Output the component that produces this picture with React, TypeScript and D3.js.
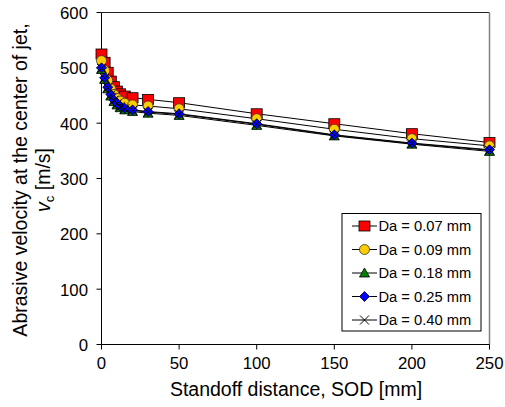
import React from "react";
import * as d3 from "d3";

const sod = [0, 2, 4, 6, 8, 10, 12, 15, 20, 30, 50, 100, 150, 200, 250];
const da007 = [525, 510, 492, 476, 466, 458, 453, 449, 446, 443, 437, 417, 399, 381, 365];
const da009 = [513, 495, 477, 462, 452, 445, 440, 436, 433, 431, 426, 408, 389, 372, 359];
const da018 = [497, 479, 462, 449, 439, 433, 428, 424, 421, 418, 414, 396, 377, 362, 349];
const da025 = [500, 482, 465, 452, 442, 436, 431, 427, 424, 421, 417, 399, 379, 364, 352];
const da040 = [499, 481, 464, 451, 441, 435, 430, 426, 423, 420, 416, 398, 378, 363, 351];
const seriesLabels = ["Da = 0.07 mm", "Da = 0.09 mm", "Da = 0.18 mm", "Da = 0.25 mm", "Da = 0.40 mm"];
const markerKinds = ["square", "circle", "triangle", "diamond", "x"];
const markerFills = ["#FF0000", "#FFCC00", "#008000", "#0000FF", "none"];
const xTicks = [0, 50, 100, 150, 200, 250];
const yTicks = [0, 100, 200, 300, 400, 500, 600];

const FONT = "'Liberation Sans', Arial, sans-serif";

function Marker({ kind, fill, cx, cy }: { kind: string; fill: string; cx: number; cy: number }) {
  const s = "#000";
  if (kind === "square")
    return <rect x={cx - 5.5} y={cy - 5} width={11} height={10} fill={fill} stroke={s} strokeWidth={0.8} />;
  if (kind === "circle") return <circle cx={cx} cy={cy} r={5} fill={fill} stroke="#333" strokeWidth={0.8} />;
  if (kind === "triangle")
    return (
      <path
        d={`M${cx},${cy - 5}L${cx + 5},${cy + 4}L${cx - 5},${cy + 4}Z`}
        fill={fill}
        stroke={s}
        strokeWidth={0.8}
      />
    );
  if (kind === "diamond")
    return (
      <path
        d={`M${cx},${cy - 5}L${cx + 5},${cy}L${cx},${cy + 5}L${cx - 5},${cy}Z`}
        fill={fill}
        stroke={s}
        strokeWidth={0.8}
      />
    );
  return (
    <path
      d={`M${cx - 4.5},${cy - 4.5}L${cx + 4.5},${cy + 4.5}M${cx - 4.5},${cy + 4.5}L${cx + 4.5},${cy - 4.5}`}
      stroke={s}
      strokeWidth={1}
      fill="none"
    />
  );
}

export default function App() {
  const W = 505;
  const H = 407;
  const left = 101.5;
  const right = 489.5;
  const top = 12.5;
  const bottom = 344.5;
  const x = d3.scaleLinear().domain([0, 250]).range([left, right]);
  const y = d3.scaleLinear().domain([0, 600]).range([bottom, top]);
  const series = [da007, da009, da018, da025, da040];
  const line = d3
    .line<number>()
    .x((_, i) => x(sod[i]))
    .y((d) => y(d));

  const legX = 342;
  const legY = 213.5;
  const legW = 139;
  const legH = 117.5;
  const rowH = 23.5;

  return (
    <svg
      width={W}
      height={H}
      style={{ position: "absolute", left: 0, top: 0, background: "#fff" }}
      fontFamily={FONT}
    >
      <rect x={0} y={0} width={W} height={H} fill="#fff" />
      {/* frame */}
      <line x1={left} y1={top} x2={right} y2={top} stroke="#222" strokeWidth={1} />
      <line x1={right} y1={top} x2={right} y2={bottom} stroke="#808080" strokeWidth={1.5} />
      <line x1={left} y1={top} x2={left} y2={bottom} stroke="#000" strokeWidth={1} />
      <line x1={left} y1={bottom} x2={right} y2={bottom} stroke="#000" strokeWidth={1} />
      {/* y ticks */}
      {yTicks.map((t) => (
        <g key={"y" + t}>
          <line x1={left - 5} x2={left} y1={y(t)} y2={y(t)} stroke="#000" />
          <text x={88} y={y(t) + 6.5} fontSize={16.8} textAnchor="end" fill="#000">
            {t}
          </text>
        </g>
      ))}
      {/* x ticks */}
      {xTicks.map((t) => (
        <g key={"x" + t}>
          <line x1={x(t)} x2={x(t)} y1={bottom} y2={bottom + 5} stroke="#000" />
          <text x={x(t)} y={369} fontSize={16.8} textAnchor="middle" fill="#000">
            {t}
          </text>
        </g>
      ))}
      {/* axis titles */}
      <text x={296} y={396} fontSize={19.5} textAnchor="middle" fill="#000">
        Standoff distance, SOD [mm]
      </text>
      <text transform="translate(27,180) rotate(-90)" fontSize={19.5} textAnchor="middle" fill="#000">
        Abrasive velocity at the center of jet,
      </text>
      <text transform="translate(50,180) rotate(-90)" fontSize={19.5} textAnchor="middle" fill="#000">
        <tspan fontStyle="italic">v</tspan>
        <tspan fontSize={13} dy={4}>c</tspan>
        <tspan dy={-4}> [m/s]</tspan>
      </text>
      {/* lines */}
      {series.map((s, si) => (
        <path key={"l" + si} d={line(s) || ""} fill="none" stroke="#000" strokeWidth={1} />
      ))}
      {/* markers */}
      {series.map((s, si) => (
        <g key={"m" + si}>
          {s.map((v, i) => (
            <Marker key={i} kind={markerKinds[si]} fill={markerFills[si]} cx={x(sod[i])} cy={y(v)} />
          ))}
        </g>
      ))}
      {/* legend */}
      <rect x={legX} y={legY} width={legW} height={legH} fill="#fff" stroke="#000" strokeWidth={1} />
      {seriesLabels.map((lab, i) => {
        const cy = legY + 12.5 + i * rowH;
        return (
          <g key={"leg" + i}>
            <line x1={352} x2={377} y1={cy} y2={cy} stroke="#000" strokeWidth={1} />
            <Marker kind={markerKinds[i]} fill={markerFills[i]} cx={364.5} cy={cy} />
            <text x={378.5} y={cy + 5} fontSize={14.7} fill="#000">
              {lab}
            </text>
          </g>
        );
      })}
    </svg>
  );
}
